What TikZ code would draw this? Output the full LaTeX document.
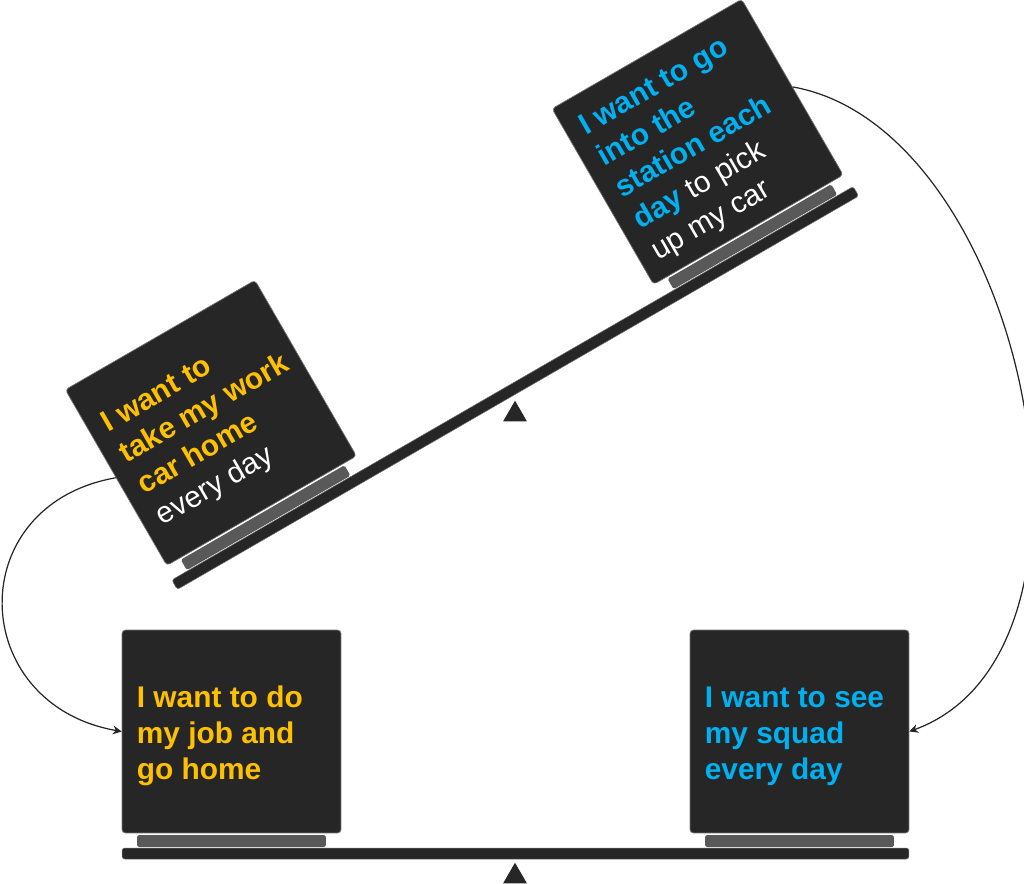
\documentclass[tikz,border=0pt]{standalone}
\usepackage{fontspec}
\setmainfont{Liberation Sans}
\usetikzlibrary{shapes.geometric, arrows.meta, positioning}
\usepackage{xcolor}
\definecolor{cCard}{HTML}{262626}
\definecolor{cShelf}{HTML}{595959}
\definecolor{cGold}{HTML}{FFC000}
\definecolor{cSky}{HTML}{00B0F0}
\newcommand\goldtxt[1]{{\bfseries\color{cGold}#1}}
\newcommand\skytxt[1]{{\bfseries\color{cSky}#1}}
\tikzset{
  card/.style={
    draw=black!55, fill=cCard, rounded corners=2pt,
    minimum width=4.38cm, minimum height=4.06cm,
    line width=0.4pt, inner sep=0pt,
  },
  cardtext/.style={
    anchor=west, align=left, inner sep=0pt, text=white,
    font=\fontsize{17}{20.5}\selectfont,
  },
  shelf/.style={
    fill=cShelf, rounded corners=1pt,
    minimum width=3.78cm, minimum height=0.24cm, inner sep=0pt,
  },
  plank/.style={
    draw=black!55, fill=cCard, rounded corners=1.5pt,
    minimum width=15.74cm, minimum height=0.22cm,
    line width=0.3pt, inner sep=0pt,
  },
  pivot/.style={
    regular polygon, regular polygon sides=3, fill=cCard,
    minimum size=0.554cm, inner sep=0pt, anchor=corner 1,
  },
  link/.style={-{Stealth[length=5pt, width=5pt]}, line width=0.7pt, color=cCard},
}
\begin{document}
\begin{tikzpicture}[x=0.02cm, y=-0.02cm]
  \useasboundingbox (0,0) rectangle (1024,883);

  % Tilted seesaw
  \begin{scope}[shift={(515.25,388)}, rotate=30, transform shape]
    \node[plank] (topPlank) at (0,0) {};
    \node[shelf] (workShelf) at (-281,-12.5) {};
    \node[shelf] (stationShelf) at (281,-12.5) {};
    \node[card] (takeCar) at (-281,-122) {};
    \node[card] (station) at (281,-122) {};
    \node[cardtext] at (-374.5,-118)
      {\goldtxt{I want to}\\\goldtxt{take my work}\\\goldtxt{car home}\\every day};
    \node[cardtext] at (187.5,-118)
      {\skytxt{I want to go}\\\skytxt{into the}\\\skytxt{station each}\\\skytxt{day} to pick\\up my car};
  \end{scope}
  \node[pivot] (topPivot) at (515,400) {};

  % Level seesaw
  \begin{scope}[shift={(515.5,853.5)}]
    \node[plank] (basePlank) at (0,0) {};
    \node[shelf] (jobShelf) at (-284,-12.5) {};
    \node[shelf] (squadShelf) at (284,-12.5) {};
    \node[card] (doJob) at (-284,-122) {};
    \node[card] (squad) at (284,-122) {};
    \node[cardtext] at (-379,-117.5)
      {\goldtxt{I want to do}\\\goldtxt{my job and}\\\goldtxt{go home}};
    \node[cardtext] at (189,-117.5)
      {\skytxt{I want to see}\\\skytxt{my squad}\\\skytxt{every day}};
  \end{scope}
  \node[pivot] (basePivot) at (515,862) {};

  % Links
  \draw[link] (takeCar.west) to[out=190, in=170, looseness=1.58] (doJob.west);
  \draw[link] (station.east) to[out=-10, in=20, looseness=0.92] (squad.east);
\end{tikzpicture}
\end{document}
